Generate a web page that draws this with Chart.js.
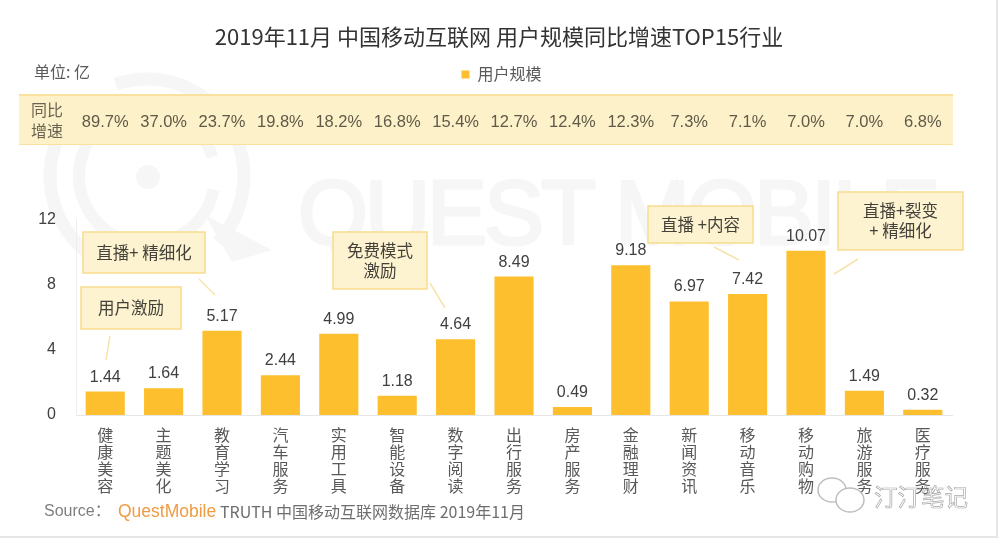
<!DOCTYPE html>
<html>
<head>
<meta charset="utf-8">
<style>
  html, body { margin: 0; padding: 0; background: #fff; }
  canvas { display: block; }
</style>
<script src="https://cdn.jsdelivr.net/npm/chart.js@4/dist/chart.umd.min.js"></script>
</head>
<body>
<canvas id="chart" width="1000" height="541"></canvas>
<script>
const categories = ['健康美容', '主题美化', '教育学习', '汽车服务', '实用工具', '智能设备', '数字阅读', '出行服务', '房产服务', '金融理财', '新闻资讯', '移动音乐', '移动购物', '旅游服务', '医疗服务'];
const userScale = [1.44, 1.64, 5.17, 2.44, 4.99, 1.18, 4.64, 8.49, 0.49, 9.18, 6.97, 7.42, 10.07, 1.49, 0.32];
const growth = ['89.7%', '37.0%', '23.7%', '19.8%', '18.2%', '16.8%', '15.4%', '12.7%', '12.4%', '12.3%', '7.3%', '7.1%', '7.0%', '7.0%', '6.8%'];
const yTicks = [0, 4, 8, 12];

const sans = '"Liberation Sans", "Noto Sans CJK SC", sans-serif';
const cjk = '"Noto Sans CJK SC", sans-serif';

// callout boxes and their leader lines
const callouts = [
    { x: 81, y: 287, w: 100, h: 42, lines: ['用户激励'], leader: [110, 336, 106, 360] },
    { x: 83, y: 232, w: 122, h: 41, lines: ['直播+ 精细化'], leader: [199, 279, 215, 295] },
    { x: 333, y: 232, w: 94, h: 57, lines: ['免费模式', '激励'], leader: [430, 283, 445, 308] },
    { x: 648, y: 206, w: 105, h: 37, lines: ['直播 +内容'], leader: [714, 247, 739, 260] },
    { x: 838, y: 192, w: 125, h: 58, lines: ['直播+裂变', '+ 精细化'], leader: [858, 259, 834, 274] }
];

const watermark = {
    id: 'watermark',
    beforeDraw(chart) {
        const ctx = chart.ctx;
        ctx.save();
        ctx.strokeStyle = '#f6f6f6';
        ctx.fillStyle = '#f6f6f6';
        ctx.lineWidth = 13;
        ctx.beginPath();
        ctx.arc(147, 176, 97, -1.9, 0.75);
        ctx.stroke();
        ctx.beginPath();
        ctx.arc(147, 176, 97, 2.0, 3.9);
        ctx.stroke();
        ctx.lineWidth = 12;
        ctx.beginPath();
        ctx.arc(147, 176, 68, 0.2, 6.0);
        ctx.stroke();
        ctx.beginPath();
        ctx.arc(148, 177, 12, 0, Math.PI * 2);
        ctx.fill();
        ctx.beginPath();
        ctx.moveTo(205, 215);
        ctx.lineTo(272, 250);
        ctx.lineTo(232, 262);
        ctx.closePath();
        ctx.fill();

        ctx.font = '90px ' + sans;
        ctx.letterSpacing = '-3px';
        ctx.textBaseline = 'alphabetic';
        ctx.lineWidth = 3;
        ctx.fillText('QUEST MOBILE', 298, 244);
        ctx.strokeText('QUEST MOBILE', 298, 244);
        ctx.restore();
    }
};

const decorations = {
    id: 'decorations',
    beforeDatasetsDraw(chart) {
        const ctx = chart.ctx;
        ctx.save();
        // growth band
        ctx.fillStyle = 'rgba(253, 240, 197, 0.93)';
        ctx.fillRect(19, 94, 934, 51);
        ctx.fillStyle = '#f9e2a0';
        ctx.fillRect(19, 94, 934, 2);
        ctx.fillRect(19, 144, 934, 1);
        ctx.restore();
    },
    afterDraw(chart) {
        const ctx = chart.ctx;
        const x = chart.scales.x;
        const meta = chart.getDatasetMeta(0);
        ctx.save();
        ctx.textBaseline = 'middle';

        ctx.textAlign = 'left';
        ctx.fillStyle = '#595959';
        ctx.font = '16px ' + cjk;
        ctx.fillText('单位: 亿', 34, 72);
        ctx.fillStyle = '#6b6452';
        ctx.fillText('同比', 31, 110);
        ctx.fillText('增速', 31, 131);

        ctx.textAlign = 'center';
        ctx.font = '16.5px ' + sans;
        ctx.fillStyle = '#5f5a48';
        growth.forEach((g, i) => ctx.fillText(g, x.getPixelForValue(i), 122));

        // value labels above bars
        ctx.textBaseline = 'alphabetic';
        ctx.font = '16px ' + sans;
        ctx.fillStyle = '#404040';
        userScale.forEach((v, i) => {
            const bar = meta.data[i];
            ctx.fillText(v.toFixed(2), bar.x, bar.y - 10);
        });

        // callouts
        callouts.forEach(c => {
            ctx.fillStyle = '#fdf3d0';
            ctx.strokeStyle = '#f8dc8e';
            ctx.lineWidth = 1.5;
            ctx.fillRect(c.x, c.y, c.w, c.h);
            ctx.strokeRect(c.x, c.y, c.w, c.h);
            ctx.strokeStyle = '#f7e3ac';
            ctx.beginPath();
            ctx.moveTo(c.leader[0], c.leader[1]);
            ctx.lineTo(c.leader[2], c.leader[3]);
            ctx.stroke();
            ctx.fillStyle = '#44413a';
            ctx.font = '16.5px ' + cjk;
            ctx.textBaseline = 'middle';
            const top = c.y + c.h / 2 - (c.lines.length - 1) * 10;
            c.lines.forEach((l, i) => ctx.fillText(l, c.x + c.w / 2, top + i * 20));
        });

        // source line
        ctx.textAlign = 'left';
        ctx.textBaseline = 'middle';
        ctx.font = '16px ' + sans;
        ctx.fillStyle = '#7f7f7f';
        ctx.fillText('Source：', 44, 512);
        ctx.font = '17.5px ' + sans;
        ctx.fillStyle = '#ef9c45';
        ctx.fillText('QuestMobile', 118, 512);
        ctx.font = '16px ' + cjk;
        ctx.fillStyle = '#6e6e6e';
        ctx.fillText('TRUTH 中国移动互联网数据库 2019年11月', 220, 512);

        // wechat mark
        ctx.strokeStyle = '#bdbdbd';
        ctx.lineWidth = 1.5;
        ctx.beginPath();
        ctx.ellipse(832, 490, 14, 12, 0, 0, Math.PI * 2);
        ctx.stroke();
        ctx.beginPath();
        ctx.ellipse(850, 500, 14, 12, 0, 0, Math.PI * 2);
        ctx.fillStyle = '#fff';
        ctx.fill();
        ctx.stroke();
        ctx.font = '23.5px ' + cjk;
        ctx.strokeStyle = '#a8a8a8';
        ctx.lineWidth = 0.7;
        ctx.strokeText('汀汀笔记', 874, 497);

        // picture frame
        ctx.fillStyle = '#e6e6e6';
        ctx.fillRect(996, 0, 2, 538);
        ctx.fillRect(0, 536, 998, 2);
        ctx.restore();
    }
};

// keeps room between the legend and the plot area, and centres title and legend on the page
const legendGap = {
    id: 'legendGap',
    beforeInit(chart) {
        const fit = chart.legend.fit;
        chart.legend.fit = function () {
            fit.call(this);
            this.height += 127;
        };
    },
    beforeDraw(chart) {
        chart.legend.right = chart.legend.left + 1003;
        chart.titleBlock.right = chart.titleBlock.left + 998;
    }
};

new Chart(document.getElementById('chart').getContext('2d'), {
    type: 'bar',
    data: {
        labels: categories,
        datasets: [{
            label: '用户规模',
            data: userScale,
            backgroundColor: '#fdbf2d',
            categoryPercentage: 1,
            barPercentage: 0.67
        }]
    },
    plugins: [watermark, decorations, legendGap],
    options: {
        responsive: false,
        animation: false,
        layout: { padding: { left: 0, right: 48, top: 0, bottom: 0 } },
        plugins: {
            title: {
                display: true,
                text: '2019年11月 中国移动互联网 用户规模同比增速TOP15行业',
                color: '#333333',
                font: { family: cjk, size: 22, weight: 'normal' },
                padding: { top: 23, bottom: 13 }
            },
            legend: {
                display: true,
                position: 'top',
                labels: {
                    usePointStyle: true,
                    pointStyle: 'rect',
                    boxWidth: 8,
                    boxHeight: 8,
                    color: '#595959',
                    padding: 4,
                    font: { family: cjk, size: 16 }
                }
            },
            tooltip: { enabled: false }
        },
        scales: {
            x: {
                grid: { display: false },
                border: { color: '#e6e6e6' },
                afterFit(scale) { scale.height = 126; },
                ticks: {
                    autoSkip: false,
                    maxRotation: 0,
                    minRotation: 0,
                    padding: 4,
                    color: '#595959',
                    font: { family: cjk, size: 16, lineHeight: '16.7px' },
                    callback(value) { return categories[value].split(''); }
                }
            },
            y: {
                min: 0,
                max: 12,
                grid: { display: false },
                border: { color: '#eeeeee' },
                afterFit(scale) { scale.width = 76; },
                afterBuildTicks(scale) { scale.ticks = yTicks.map(v => ({ value: v })); },
                ticks: {
                    padding: 12,
                    color: '#404040',
                    font: { family: sans, size: 16 }
                }
            }
        }
    }
});
</script>
</body>
</html>
